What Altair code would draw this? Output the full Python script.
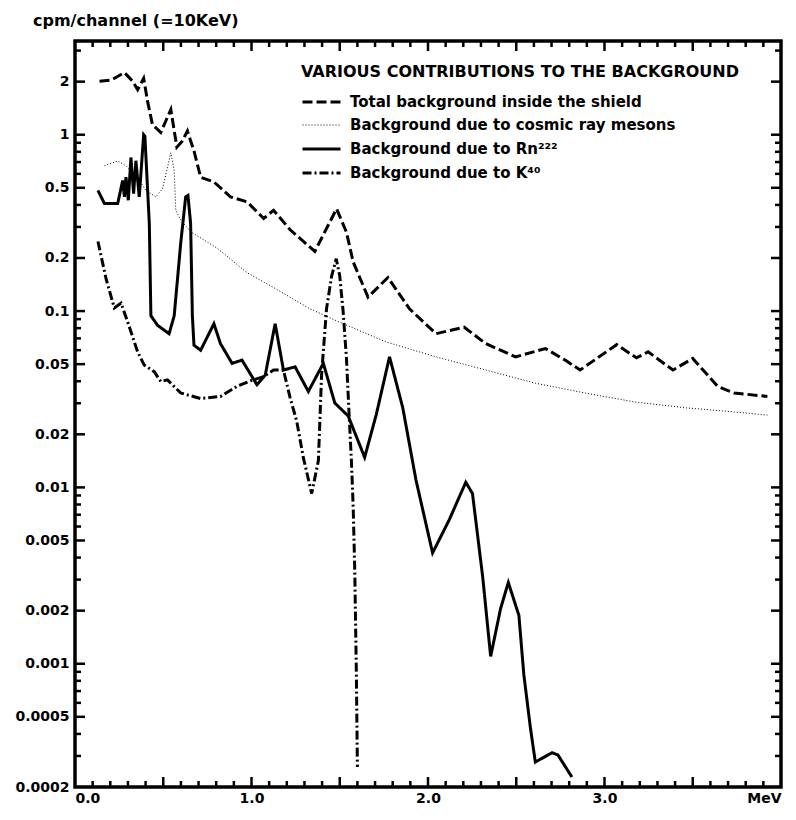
import altair as alt
import pandas as pd

SERIES = [
    "Total background inside the shield",
    "Background due to cosmic ray mesons",
    "Background due to Rn²²²",
    "Background due to K⁴⁰",
]

TOTAL_E = [0.139, 0.205, 0.28, 0.327, 0.355, 0.389, 0.411, 0.439, 0.486, 0.543, 0.577, 0.608, 0.637,
           0.674, 0.712, 0.787, 0.881, 0.975, 1.069, 1.125, 1.219, 1.359, 1.482, 1.538, 1.576, 1.66,
           1.773, 1.895, 2.045, 2.205, 2.327, 2.496, 2.665, 2.777, 2.862, 3.069, 3.181, 3.247, 3.388,
           3.50, 3.641, 3.735, 3.923]
TOTAL_V = [2.01, 2.04, 2.25, 2.01, 1.80, 2.09, 1.55, 1.14, 1.03, 1.39, 0.85, 0.92, 1.05,
           0.81, 0.574, 0.54, 0.444, 0.416, 0.335, 0.373, 0.289, 0.218, 0.38, 0.28, 0.19, 0.12,
           0.155, 0.103, 0.0744, 0.081, 0.0654, 0.055, 0.0613, 0.0527, 0.0463, 0.0645, 0.0543, 0.0587, 0.0463,
           0.0539, 0.0374, 0.0343, 0.0328]

COSMIC_E = [0.167, 0.242, 0.289, 0.35, 0.402, 0.458, 0.496, 0.543, 0.562, 0.571, 0.599, 0.655, 0.806,
            0.975, 1.125, 1.331, 1.50, 1.763, 2.045, 2.327, 2.608, 2.89, 3.172, 3.454, 3.735, 3.923]
COSMIC_V = [0.667, 0.71, 0.667, 0.58, 0.483, 0.444, 0.494, 0.79, 0.626, 0.373, 0.328, 0.282, 0.227,
            0.165, 0.136, 0.103, 0.0864, 0.0668, 0.055, 0.0463, 0.039, 0.0343, 0.0305, 0.0283, 0.0268, 0.0257]

RN_E = [0.13, 0.167, 0.242, 0.27, 0.28, 0.289, 0.302, 0.317, 0.332, 0.345, 0.364, 0.389, 0.396, 0.421,
        0.43, 0.468, 0.533, 0.562, 0.599, 0.627, 0.64, 0.655, 0.665, 0.674, 0.712, 0.787, 0.824, 0.89,
        0.946, 1.031, 1.078, 1.134, 1.181, 1.247, 1.322, 1.407, 1.472, 1.548, 1.641, 1.707, 1.782,
        1.857, 1.932, 2.026, 2.12, 2.214, 2.252, 2.31, 2.355, 2.411, 2.455, 2.515, 2.543, 2.58, 2.608,
        2.703, 2.736, 2.815]
RN_V = [0.483, 0.407, 0.407, 0.55, 0.444, 0.574, 0.425, 0.743, 0.463, 0.712, 0.444, 1.0, 0.98, 0.314,
        0.094, 0.083, 0.0744, 0.094, 0.243, 0.444, 0.453, 0.314, 0.094, 0.064, 0.060, 0.0847, 0.0654, 0.0505,
        0.0527, 0.0382, 0.0434, 0.0847, 0.0463, 0.0483, 0.035, 0.0505, 0.0301, 0.0254, 0.0148, 0.0259, 0.055,
        0.0283, 0.011, 0.00425, 0.00654, 0.0107, 0.00923, 0.0031, 0.0011, 0.00205, 0.00289, 0.00188, 0.000867,
        0.000435, 0.000277, 0.000313, 0.000304, 0.000228]

K40_E = [0.13, 0.177, 0.223, 0.261, 0.299, 0.355, 0.392, 0.449, 0.486, 0.524, 0.599, 0.712, 0.824, 0.918,
         0.993, 1.069, 1.125, 1.181, 1.219, 1.256, 1.294, 1.341, 1.379, 1.397, 1.425, 1.454, 1.48, 1.50,
         1.519, 1.538, 1.553, 1.566, 1.576, 1.585, 1.594, 1.60]
K40_V = [0.248, 0.151, 0.104, 0.111, 0.0864, 0.0587, 0.0494, 0.0453, 0.0398, 0.0407, 0.0343, 0.0319, 0.0328,
         0.0374, 0.0402, 0.0425, 0.0463, 0.0463, 0.0322, 0.0238, 0.0147, 0.00923, 0.0142, 0.0434, 0.103, 0.158,
         0.198, 0.158, 0.100, 0.054, 0.0259, 0.0142, 0.0078, 0.0034, 0.0009, 0.00026]

DASHES = [[10, 4], [1, 2], [1, 0], [9, 3, 2, 3]]
WIDTHS = [3, 1, 3, 3]

X_LABELS = [0, 1, 2, 3, 4]
X_MAJOR = [0.5, 1.0, 1.5, 2.0, 2.5, 3.0, 3.5]
X_MINOR = [0.1, 0.2, 0.3, 0.4, 0.6, 0.7, 0.8, 0.9, 1.1, 1.2, 1.3, 1.4, 1.6, 1.7, 1.8, 1.9,
           2.1, 2.2, 2.3, 2.4, 2.6, 2.7, 2.8, 2.9, 3.1, 3.2, 3.3, 3.4, 3.6, 3.7, 3.8, 3.9]
Y_LABELS = [0.0002, 0.0005, 0.001, 0.002, 0.005, 0.01, 0.02, 0.05, 0.1, 0.2, 0.5, 1, 2]
Y_MAJOR = [0.0005, 0.001, 0.002, 0.005, 0.01, 0.02, 0.05, 0.1, 0.2, 0.5, 1, 2]
Y_MINOR = [0.0003, 0.0004, 0.0006, 0.0007, 0.0008, 0.0009,
           0.003, 0.004, 0.006, 0.007, 0.008, 0.009,
           0.03, 0.04, 0.06, 0.07, 0.08, 0.09,
           0.3, 0.4, 0.6, 0.7, 0.8, 0.9, 3]

rows = []
for name, es, vs in zip(SERIES, [TOTAL_E, COSMIC_E, RN_E, K40_E], [TOTAL_V, COSMIC_V, RN_V, K40_V]):
    for i, (e, v) in enumerate(zip(es, vs)):
        rows.append({"series": name, "E": e, "v": v, "i": i})
df = pd.DataFrame(rows)

W, H = 706, 746
FONT = "DejaVu Sans"

xs = alt.Scale(domain=[0, 4], nice=False, zero=False)
ys = alt.Scale(type="log", domain=[0.0002, 3.4], nice=False)

xaxis = alt.Axis(values=X_LABELS, labelExpr="datum.value == 4 ? 'MeV' : format(datum.value, '.1f')",
                 ticks=False, domain=False, grid=False, title=None, labelFont=FONT, labelFontSize=14,
                 labelFontWeight="bold", labelColor="black", labelPadding=4, labelFlush=True)
yaxis = alt.Axis(values=Y_LABELS, format="~g", ticks=False, domain=False, grid=False, title=None,
                 labelFont=FONT, labelFontSize=14, labelFontWeight="bold", labelColor="black",
                 labelPadding=6, labelOverlap=False)

X_ENC = alt.X("E:Q", scale=xs, axis=xaxis)
Y_ENC = alt.Y("v:Q", scale=ys, axis=yaxis)

legend_kw = dict(
    title="VARIOUS CONTRIBUTIONS TO THE BACKGROUND", orient="none", legendX=226, legendY=23,
    symbolType="M-1,0H3", symbolSize=361, symbolStrokeColor="black",
    labelFont=FONT, labelFontSize=15, labelFontWeight="bold", labelColor="black", labelLimit=500,
    titleFont=FONT, titleFontSize=16, titleFontWeight="bold", titleColor="black", titleLimit=700,
    titlePadding=11, rowPadding=5, labelOffset=27,
)

xmaj = pd.DataFrame({"E": X_MAJOR})
xmin = pd.DataFrame({"E": X_MINOR})
ymaj = pd.DataFrame({"v": Y_MAJOR})
ymin = pd.DataFrame({"v": Y_MINOR})


def xticks(data, length):
    b = alt.Chart(data).mark_tick(color="black", orient="vertical", size=length, thickness=2.5,
                                  opacity=1).encode(x=X_ENC, y=alt.value(H - length / 2))
    t = alt.Chart(data).mark_tick(color="black", orient="vertical", size=length, thickness=2.5,
                                  opacity=1).encode(x=X_ENC, y=alt.value(length / 2))
    return [b, t]


def yticks(data, length):
    l = alt.Chart(data).mark_tick(color="black", orient="horizontal", size=length, thickness=2.5,
                                  opacity=1).encode(y=Y_ENC, x=alt.value(length / 2))
    r = alt.Chart(data).mark_tick(color="black", orient="horizontal", size=length, thickness=2.5,
                                  opacity=1).encode(y=Y_ENC, x=alt.value(W - length / 2))
    return [l, r]


lines = alt.Chart(df).mark_line(color="black").encode(
    x=X_ENC,
    y=Y_ENC,
    strokeDash=alt.StrokeDash("series:N", scale=alt.Scale(type="ordinal", domain=SERIES, range=DASHES),
                              legend=alt.Legend(**legend_kw)),
    strokeWidth=alt.StrokeWidth("series:N", scale=alt.Scale(type="ordinal", domain=SERIES, range=WIDTHS),
                                legend=alt.Legend(**legend_kw)),
    order="i:Q",
)

layers = [lines] + xticks(xmaj, 10) + xticks(xmin, 6) + yticks(ymaj, 10) + yticks(ymin, 6)

chart = alt.layer(*layers).properties(
    width=W, height=H,
    title=alt.TitleParams("cpm/channel (=10KeV)", anchor="start", frame="group", dx=-42,
                          fontSize=16, font=FONT, fontWeight="bold", color="black", offset=12),
    padding={"left": 6, "top": 5, "right": 2, "bottom": 2},
).configure_view(stroke="black", strokeWidth=3.5)

chart.save("out.html", embed_options={"renderer": "svg", "actions": False})
